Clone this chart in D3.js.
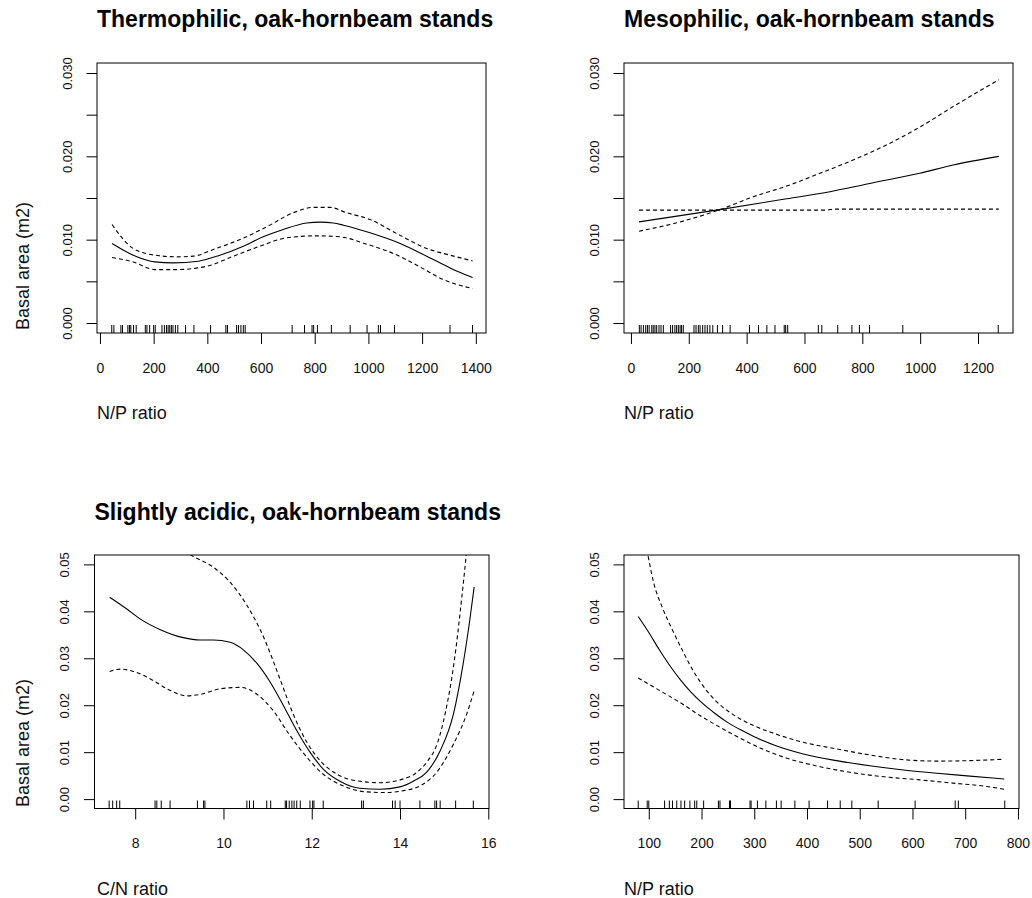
<!DOCTYPE html>
<html><head><meta charset="utf-8">
<script src="https://cdn.jsdelivr.net/npm/d3@7"></script>
<style>
body{margin:0;background:#fff;}
svg{display:block;font-family:"Liberation Sans",Arial,sans-serif;}
</style>
</head><body>
<svg id="c" width="1032" height="898"></svg>
<script>
// ---------------- DATA ----------------
const titles = ["Thermophilic, oak-hornbeam stands", "Mesophilic, oak-hornbeam stands", "Slightly acidic, oak-hornbeam stands", ""];
const xTitles = ["N/P ratio", "N/P ratio", "C/N ratio", "N/P ratio"];
const yTitle = "Basal area (m2)";

const xTicks1 = [0, 200, 400, 600, 800, 1000, 1200, 1400];
const xTicks2 = [0, 200, 400, 600, 800, 1000, 1200];
const xTicks3 = [8, 10, 12, 14, 16];
const xTicks4 = [100, 200, 300, 400, 500, 600, 700, 800];
const yTicksTop = [0, 0.005, 0.010, 0.015, 0.020, 0.025, 0.030];
const yLabelsTop = [0, 0.010, 0.020, 0.030];
const yTicksBottom = [0, 0.01, 0.02, 0.03, 0.04, 0.05];

// Panel 1: thermophilic
const p1Fit = [[45,0.00954],[124,0.00814],[205,0.00733],[273,0.00721],[366,0.00741],[447,0.00814],[534,0.00922],[608,0.01034],[683,0.01122],[770,0.01200],[820,0.01210],[869,0.01200],[907,0.01174],[1006,0.01082],[1118,0.00954],[1217,0.00802],[1304,0.00661],[1388,0.00545]];
const p1Upper = [[45,0.01182],[124,0.00894],[205,0.00814],[286,0.00794],[348,0.00802],[422,0.00882],[522,0.01002],[621,0.01154],[720,0.01323],[795,0.01387],[857,0.01387],[919,0.01323],[1006,0.01242],[1105,0.01074],[1217,0.00894],[1304,0.00814],[1388,0.00745]];
const p1Lower = [[45,0.00786],[124,0.00733],[205,0.00641],[286,0.00641],[398,0.00681],[497,0.00802],[596,0.00922],[696,0.01022],[808,0.01046],[894,0.01034],[994,0.00946],[1093,0.00834],[1192,0.00673],[1279,0.00521],[1388,0.00413]];
const p1Rug = [44,52,78,84,104,110,115,125,135,169,175,185,200,206,231,240,248,254,260,266,272,281,290,319,350,412,469,475,509,516,525,534,541,716,762,790,796,810,862,932,995,1037,1045,1097,1304,1388];

// Panel 2: mesophilic
const p2Fit = [[28,0.01214],[307,0.01360],[538,0.01491],[688,0.01575],[826,0.01675],[998,0.01796],[1114,0.01896],[1272,0.02000]];
const p2Upper = [[28,0.01102],[158,0.01202],[307,0.01360],[423,0.01515],[538,0.01643],[653,0.01796],[768,0.01956],[883,0.02136],[998,0.02349],[1114,0.02597],[1272,0.02920]];
const p2Lower = [[28,0.01355],[680,0.01355],[700,0.01367],[1272,0.01367]];
const p2Rug = [29,35,43,51,57,63,72,77,83,89,97,104,112,137,144,152,158,164,170,175,181,218,225,233,239,248,256,264,273,283,299,317,343,410,441,470,498,530,535,542,648,660,715,764,790,825,940,1270];

// Panel 3: slightly acidic (C/N)
const p3Fit = [[7.42,0.0430],[7.81,0.0405],[8.11,0.0384],[8.57,0.0361],[9.09,0.0344],[9.47,0.0339],[9.77,0.0339],[10.15,0.0334],[10.45,0.0318],[10.75,0.0290],[11.06,0.0249],[11.36,0.0199],[11.66,0.0146],[11.96,0.0100],[12.26,0.0064],[12.64,0.0038],[13.09,0.0023],[13.55,0.0021],[14.0,0.0026],[14.30,0.0038],[14.60,0.0057],[14.91,0.0103],[15.21,0.0181],[15.43,0.0288],[15.58,0.0381],[15.68,0.0452]];
const p3Upper = [[7.42,0.0610],[8.2,0.0580],[8.8,0.0550],[9.28,0.0519],[9.77,0.0494],[10.15,0.0462],[10.53,0.0413],[10.91,0.0345],[11.28,0.0256],[11.58,0.0181],[11.89,0.0121],[12.19,0.0082],[12.57,0.0053],[13.02,0.0039],[13.55,0.0035],[14.0,0.0041],[14.38,0.0057],[14.60,0.0078],[14.85,0.0120],[15.02,0.0181],[15.22,0.0288],[15.40,0.0430],[15.52,0.0540],[15.68,0.0720]];
const p3Lower = [[7.42,0.0272],[7.66,0.0277],[7.96,0.0272],[8.42,0.0252],[8.72,0.0235],[9.17,0.0220],[9.47,0.0223],[9.92,0.0235],[10.38,0.0238],[10.75,0.0224],[11.13,0.0188],[11.51,0.0135],[11.89,0.0089],[12.26,0.0053],[12.72,0.0028],[13.17,0.0016],[13.62,0.0014],[14.08,0.0018],[14.45,0.0028],[14.83,0.0057],[15.21,0.0117],[15.51,0.0181],[15.68,0.0231]];
const p3Rug = [7.41,7.49,7.58,7.65,8.45,8.49,8.59,8.79,9.41,9.55,9.58,10.53,10.59,10.68,10.98,11.07,11.40,11.43,11.49,11.55,11.60,11.66,11.74,11.96,12.02,12.05,12.26,13.13,13.17,13.83,13.89,14.00,14.45,14.79,14.83,14.91,15.26,15.66];

// Panel 4: N/P
const p4Fit = [[80,0.0389],[100,0.0355],[120,0.0318],[140,0.0284],[160,0.0254],[180,0.0228],[200,0.0206],[225,0.0183],[250,0.0163],[275,0.0147],[300,0.0133],[340,0.0114],[393,0.0096],[456,0.0082],[519,0.0071],[583,0.0062],[646,0.0055],[709,0.0049],[774,0.0043]];
const p4Upper = [[80,0.0650],[99,0.0516],[110,0.0458],[125,0.0410],[145,0.0360],[165,0.0314],[185,0.0272],[205,0.0238],[230,0.0206],[260,0.0180],[300,0.0156],[340,0.0139],[393,0.0121],[456,0.0107],[519,0.0094],[583,0.0084],[646,0.0081],[709,0.0082],[774,0.0085]];
const p4Lower = [[80,0.0258],[121,0.0231],[159,0.0206],[197,0.0178],[235,0.0153],[273,0.0130],[311,0.0109],[362,0.0087],[425,0.0069],[488,0.0056],[551,0.0047],[614,0.0041],[677,0.0034],[741,0.0027],[774,0.0021]];
const p4Rug = [80,97,100,130,139,145,153,161,168,178,187,191,204,232,235,253,255,292,294,306,322,342,351,377,404,439,463,485,535,605,681,687,775];

// ---------------- LAYOUT ----------------
const panels = [
  {box:[97,63,486,333], xd:[-11,1438], yd:[-0.0012,0.0312], xt:xTicks1, yt:yTicksTop, yl:yLabelsTop, yf:".3f",
   fit:p1Fit, up:p1Upper, lo:p1Lower, rug:p1Rug, title:titles[0], xTitle:xTitles[0], yTitle:true, tY:27, yTitleY:266},
  {box:[624,63,1013,333], xd:[-24,1321], yd:[-0.0012,0.0312], xt:xTicks2, yt:yTicksTop, yl:yLabelsTop, yf:".3f",
   fit:p2Fit, up:p2Upper, lo:p2Lower, rug:p2Rug, title:titles[1], xTitle:xTitles[1], yTitle:false, tY:27},
  {box:[94.5,555,489,808.5], xd:[7.078,16.016], yd:[-0.002,0.052], xt:xTicks3, yt:yTicksBottom, yl:yTicksBottom, yf:".2f",
   fit:p3Fit, up:p3Upper, lo:p3Lower, rug:p3Rug, title:titles[2], xTitle:xTitles[2], yTitle:true, tY:520, yTitleY:743},
  {box:[624,555,1019,808.5], xd:[53,802], yd:[-0.002,0.052], xt:xTicks4, yt:yTicksBottom, yl:yTicksBottom, yf:".2f",
   fit:p4Fit, up:p4Upper, lo:p4Lower, rug:p4Rug, title:titles[3], xTitle:xTitles[3], yTitle:false, tY:520}
];

const svg = d3.select("#c");

panels.forEach((p, i) => {
  const [l, t, r, b] = p.box;
  const x = d3.scaleLinear().domain(p.xd).range([l, r]);
  const y = d3.scaleLinear().domain(p.yd).range([b, t]);
  const g = svg.append("g");

  const clipId = "clip" + i;
  svg.append("clipPath").attr("id", clipId)
    .append("rect").attr("x", l).attr("y", t).attr("width", r - l).attr("height", b - t);

  const line = d3.line().x(d => x(d[0])).y(d => y(d[1])).curve(d3.curveMonotoneX);
  const cg = g.append("g").attr("clip-path", `url(#${clipId})`);
  cg.append("path").datum(p.fit).attr("d", line)
    .attr("fill", "none").attr("stroke", "#000").attr("stroke-width", 1.1);
  [p.up, p.lo].forEach(s => {
    cg.append("path").datum(s).attr("d", line)
      .attr("fill", "none").attr("stroke", "#000").attr("stroke-width", 1.1)
      .attr("stroke-dasharray", "4,3");
  });

  // rug
  g.append("g").selectAll("line").data(p.rug).join("line")
    .attr("x1", d => x(d)).attr("x2", d => x(d))
    .attr("y1", b).attr("y2", b - 8)
    .attr("stroke", "#000").attr("stroke-width", 1);

  // box
  g.append("rect").attr("x", l).attr("y", t).attr("width", r - l).attr("height", b - t)
    .attr("fill", "none").attr("stroke", "#000").attr("stroke-width", 1);

  // x axis
  const xa = g.append("g").attr("transform", `translate(0,${b})`)
    .call(d3.axisBottom(x).tickValues(p.xt).tickSize(11).tickPadding(19).tickFormat(d3.format("d")));
  xa.select(".domain").remove();
  xa.selectAll(".tick line").attr("stroke", "#000");
  xa.selectAll(".tick text").attr("fill", "#111").style("font-size", "14px")
    .style("font-family", '"Liberation Sans", Arial, sans-serif');

  // y axis
  const fmt = d3.format(p.yf);
  const ya = g.append("g").attr("transform", `translate(${l},0)`)
    .call(d3.axisLeft(y).tickValues(p.yt).tickSize(10.5)
      .tickFormat(d => p.yl.some(v => Math.abs(v - d) < 1e-9) ? fmt(d) : ""));
  ya.select(".domain").remove();
  ya.selectAll(".tick line").attr("stroke", "#000");
  ya.selectAll(".tick text")
    .attr("x", null).attr("dy", null)
    .attr("transform", "translate(-25.5,0) rotate(-90)")
    .attr("text-anchor", "middle")
    .attr("fill", "#111").style("font-size", "13px")
    .style("font-family", '"Liberation Sans", Arial, sans-serif');

  // titles
  if (p.title) {
    svg.append("text").attr("x", l).attr("y", p.tY).text(p.title)
      .style("font-size", "23px").style("font-weight", "bold").attr("fill", "#000");
  }
  svg.append("text").attr("x", i % 2 === 0 ? 97 : 624).attr("y", b + 86).text(p.xTitle)
    .style("font-size", "18px").attr("fill", "#111");
  if (p.yTitle) {
    svg.append("text").attr("transform", `translate(29,${p.yTitleY}) rotate(-90)`)
      .attr("text-anchor", "middle").text(yTitle)
      .style("font-size", "18px").attr("fill", "#111");
  }
});
</script>
</body></html>
